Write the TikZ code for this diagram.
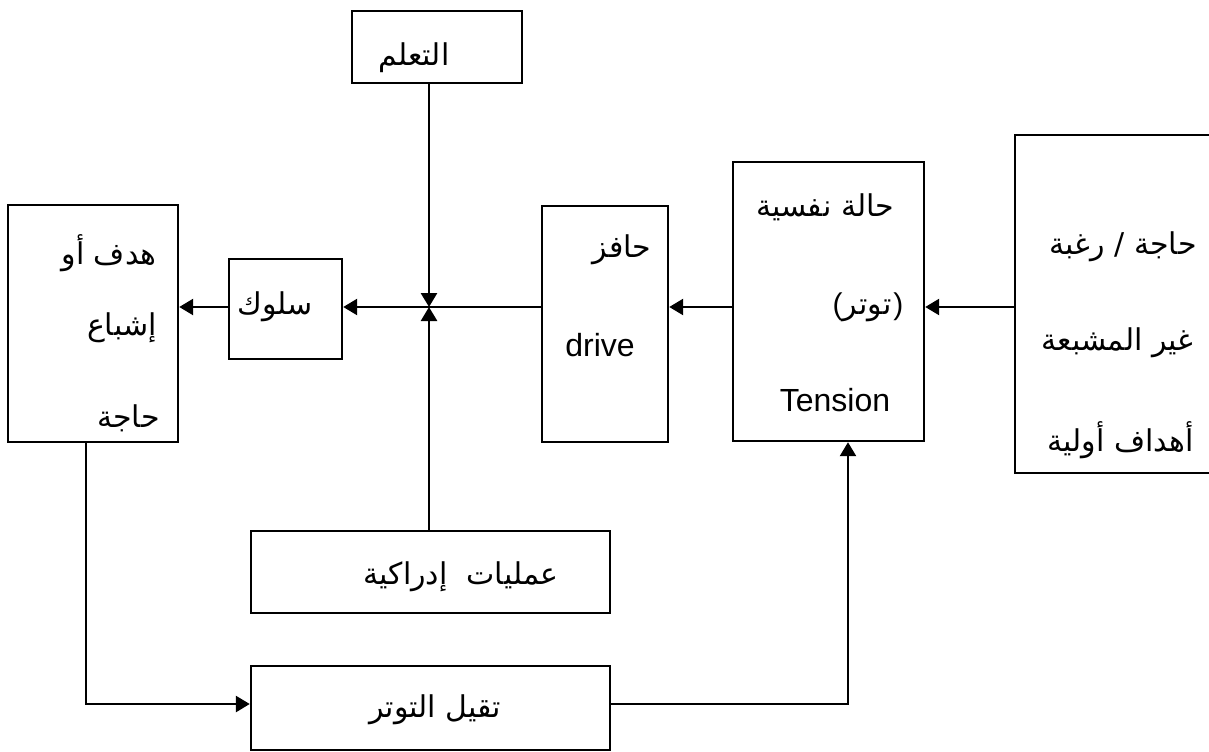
\documentclass[tikz,border=0pt]{standalone}
\usepackage{fontspec}
\setmainfont{Liberation Sans}
\newfontfamily\arabicfont[Script=Arabic]{DejaVu Sans}
\TeXXeTstate=1
\usetikzlibrary{arrows.meta,fit}
\newcommand{\AR}[1]{{\arabicfont\beginR #1\endR}}
\begin{document}
\begin{tikzpicture}[x=0.5pt,y=-0.5pt,
  box/.style={draw, line width=1.2pt, inner sep=0pt},
  arr/.style={line width=1.3pt, -{Triangle[length=7pt,width=8pt]}},
  txt/.style={inner sep=0pt, font=\fontsize{15}{18}\selectfont},
  lat/.style={inner sep=0pt, font=\fontsize{16}{19}\selectfont}]
\useasboundingbox (0,0) rectangle (1209,751);
\clip (0,0) rectangle (1209,751);
% boxes
\node[box, fit={(352,11) (522,83)}] (learn) {};
\node[box, fit={(8,205) (178,442)}] (goal) {};
\node[box, fit={(229,259) (342,359)}] (beh) {};
\node[box, fit={(542,206) (668,442)}] (drive) {};
\node[box, fit={(733,162) (924,441)}] (tens) {};
\node[box, fit={(1015,135) (1240,473)}] (need) {};
\node[box, fit={(251,531) (610,613)}] (cog) {};
\node[box, fit={(251,666) (610,750)}] (red) {};
% helper coordinates
\coordinate (J) at (429,307);
\coordinate (L) at (86,704);
\coordinate (R) at (848,704);
% connectors
\draw[arr] (need.west |- J) -- (tens.east |- J);
\draw[arr] (tens.west |- J) -- (drive.east |- J);
\draw[arr] (drive.west |- J) -- (beh.east |- J);
\draw[arr] (beh.west |- J) -- (goal.east |- J);
\draw[arr] (learn.south -| J) -- (J);
\draw[arr] (cog.north -| J) -- (J);
\draw[arr] (goal.south -| L) -- (L) -- (red.west |- L);
\draw[arr] (red.east |- R) -- (R) -- (tens.south -| R);
% texts
\node[txt] (tl) at (414,58) {\AR{التعلم}};
\node[txt, anchor=east] (tg1) at (157,253) {\AR{هدف أو}};
\node[txt, anchor=east] (tg2) at (157,328) {\AR{إشباع}};
\node[txt, anchor=east] (tg3) at (160,418) {\AR{حاجة}};
\node[txt] (tb) at (275,307) {\AR{سلوك}};
\node[txt] (td1) at (622,250) {\AR{حافز}};
\node[lat] (td2) at (600,345) {drive};
\node[txt] (tt1) at (825,207) {\AR{حالة نفسية}};
\node[txt] (tt2) at (868,307) {(\AR{توتر}\kern1pt)};
\node[lat] (tt3) at (835,400) {Tension};
\node[txt, anchor=east] (tn1) at (1197,247) {\AR{حاجة / رغبة}};
\node[txt, anchor=east] (tn2) at (1194,343) {\AR{غير المشبعة}};
\node[txt, anchor=east] (tn3) at (1194,440) {\AR{أهداف أولية}};
\node[txt] (tc) at (461,577) {\AR{عمليات~~إدراكية}};
\node[txt] (tr) at (435,710) {\AR{تقيل التوتر}};
\end{tikzpicture}
\end{document}
